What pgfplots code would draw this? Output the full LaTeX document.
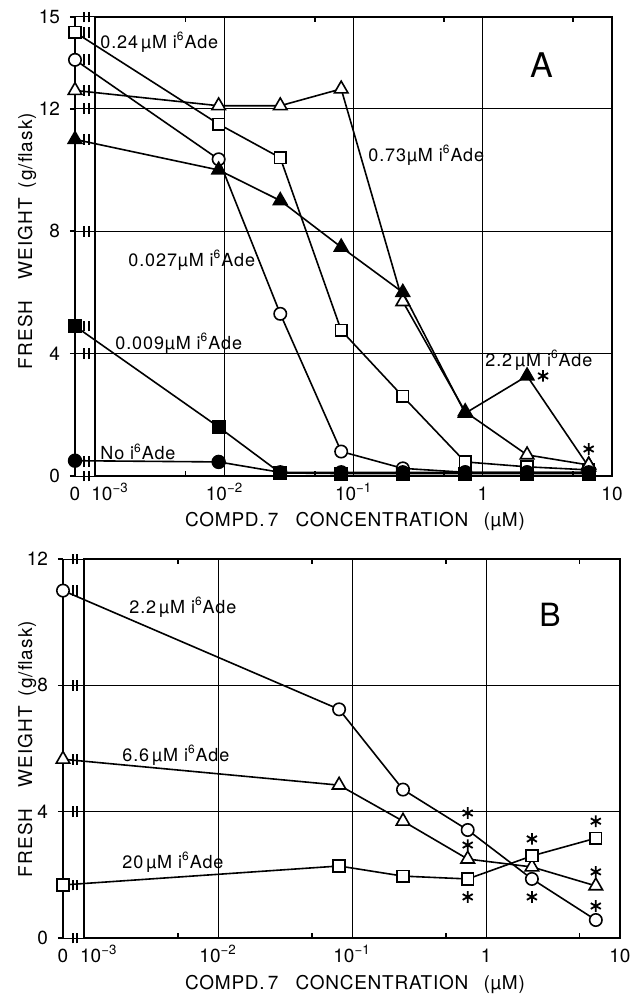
\documentclass[border=0pt]{standalone}
\usepackage{fontspec}
\setmainfont{TeX Gyre Heros}
\usepackage{pgfplots}
\pgfplotsset{compat=1.18}
\pgfplotsset{
  mydl/.style={black, line width=0.8pt},
  myoS/.style={mydl, mark=square*, mark size=2.9pt, mark options={fill=white, solid, line width=0.8pt}},
  myfS/.style={mydl, mark=square*, mark size=3.1pt, mark options={fill=black, solid}},
  myoC/.style={mydl, mark=*, mark size=3.1pt, mark options={fill=white, solid, line width=0.8pt}},
  myfC/.style={mydl, mark=*, mark size=3.2pt, mark options={fill=black, solid}},
  myoT/.style={mydl, mark=triangle*, mark size=3.9pt, mark options={fill=white, solid, line width=0.8pt}},
  myfT/.style={mydl, mark=triangle*, mark size=3.9pt, mark options={fill=black, solid}},
}
\newcommand{\iAde}{i\textsuperscript{6}Ade}
\newcommand{\xlab}{COMPD.\,7\hspace{0.9em}CONCENTRATION\hspace{0.8em}(µM)}
\newcommand{\ylab}{FRESH\hspace{1.1em}WEIGHT\hspace{0.5em}(g/flask)}
\begin{document}
\begin{tikzpicture}
\begin{scope}[x=0.5pt,y=-0.5pt]
\path[use as bounding box] (0,0) rectangle (628,995);
\end{scope}

% ---------------- Panel A ----------------
\begin{axis}[at={(37.5pt,-238pt)}, anchor=south west,
  scale only axis, width=268.5pt, height=229.5pt,
  xmode=log, xmin=6.95e-4, xmax=10, ymin=0, ymax=15, clip=false,
  axis line style={draw=none},
  xtick={6.95e-4,1e-3,1e-2,1e-1,1,10},
  xticklabels={0,{\makebox[0pt][l]{\hspace{-2pt}10\textsuperscript{−3}}},10\textsuperscript{−2},10\textsuperscript{−1},1,10},
  minor xtick={5e-3,5e-2,5e-1,5},
  ytick={0,4,8,12,15}, yticklabels={0,4,8,12,15},
  xmajorgrids, ymajorgrids,
  grid style={black, line width=0.5pt},
  major tick length=0pt, minor tick length=2.6pt, tick align=inside,
  tick style={black, line width=0.8pt},
  tick label style={font=\fontsize{9.5}{10}\selectfont},
  yticklabel style={xshift=-4pt},
  xticklabel style={anchor=base, yshift=-12pt}]
\draw[line width=1pt] (axis cs:1e-3,0) rectangle (axis cs:10,15);
\draw[line width=1.3pt] (axis cs:6.95e-4,0) -- (axis cs:6.95e-4,15);
\pgfplotsinvokeforeach{0,4,8,12,15}{
  \draw[line width=0.8pt] (axis cs:6.95e-4,#1) ++(-2.5pt,0pt) -- ++(2.5pt,0pt);
}
\pgfplotsinvokeforeach{0,4,8,12,15,14.5,13.6,12.6,11.0,4.9,0.47}{
  \draw[line width=0.9pt] (axis cs:8.2e-4,#1) ++(0pt,-2.7pt) -- ++(0pt,5.4pt);
  \draw[line width=0.9pt] (axis cs:8.9e-4,#1) ++(0pt,-2.7pt) -- ++(0pt,5.4pt);
}
% 0.24 uM (open squares)
\addplot[myoS] coordinates {(6.95e-4,14.5)(0.009,11.5)(0.027,10.4)(0.08,4.76)(0.24,2.6)(0.73,0.46)(2.2,0.3)(6.6,0.2)};
% 0.027 uM (open circles)
\addplot[myoC] coordinates {(6.95e-4,13.6)(0.009,10.35)(0.027,5.3)(0.08,0.8)(0.24,0.25)(0.73,0.12)(2.2,0.12)(6.6,0.12)};
% 0.73 uM (open triangles)
\addplot[myoT] coordinates {(6.95e-4,12.6)(0.009,12.1)(0.027,12.1)(0.08,12.65)(0.24,5.7)(0.73,2.1)(2.2,0.69)(6.6,0.36)};
% 2.2 uM (filled triangles)
\addplot[myfT] coordinates {(6.95e-4,11.0)(0.009,10.0)(0.027,9.0)(0.08,7.48)(0.24,6.0)(0.73,2.05)(2.2,3.27)(6.6,0.3)};
\addplot[myoT, only marks] coordinates {(6.6,0.36)};
% 0.009 uM (filled squares)
\addplot[myfS] coordinates {(6.95e-4,4.9)(0.009,1.6)(0.027,0.1)(0.08,0.08)(0.24,0.08)(0.73,0.08)(2.2,0.08)(6.6,0.08)};
% no i6Ade (filled circles)
\addplot[myfC] coordinates {(6.95e-4,0.5)(0.009,0.46)(0.027,0.12)(0.08,0.12)(0.24,0.12)(0.73,0.12)(2.2,0.12)(6.6,0.12)};
% significance stars
\addplot[black, only marks, mark=asterisk, mark size=2.9pt, mark options={line width=0.9pt, xshift=8pt}] coordinates {(2.2,3.27)};
\addplot[black, only marks, mark=asterisk, mark size=2.9pt, mark options={line width=0.9pt, yshift=8pt}] coordinates {(6.6,0.36)};
\end{axis}

% ---------------- Panel B ----------------
\begin{axis}[at={(31.5pt,-469pt)}, anchor=south west,
  scale only axis, width=278.5pt, height=189.5pt,
  xmode=log, xmin=6.95e-4, xmax=10, ymin=0, ymax=12, clip=false,
  axis line style={draw=none},
  xtick={6.95e-4,1e-3,1e-2,1e-1,1,10},
  xticklabels={0,{\makebox[0pt][l]{\hspace{-2pt}10\textsuperscript{−3}}},10\textsuperscript{−2},10\textsuperscript{−1},1,10},
  minor xtick={5e-3,5e-2,5e-1,5},
  ytick={0,4,8,12}, yticklabels={0,4,8,12},
  xmajorgrids, ymajorgrids,
  grid style={black, line width=0.5pt},
  major tick length=0pt, minor tick length=2.6pt, tick align=inside,
  tick style={black, line width=0.8pt},
  tick label style={font=\fontsize{9.5}{10}\selectfont},
  yticklabel style={xshift=-4pt},
  xticklabel style={anchor=base, yshift=-12pt}]
\draw[line width=1pt] (axis cs:1e-3,0) rectangle (axis cs:10,12);
\draw[line width=1.3pt] (axis cs:6.95e-4,0) -- (axis cs:6.95e-4,12);
\pgfplotsinvokeforeach{0,4,8,12}{
  \draw[line width=0.8pt] (axis cs:6.95e-4,#1) ++(-2.5pt,0pt) -- ++(2.5pt,0pt);
}
\pgfplotsinvokeforeach{0,4,8,12,11.0,5.66,1.68}{
  \draw[line width=0.9pt] (axis cs:8.2e-4,#1) ++(0pt,-2.7pt) -- ++(0pt,5.4pt);
  \draw[line width=0.9pt] (axis cs:8.9e-4,#1) ++(0pt,-2.7pt) -- ++(0pt,5.4pt);
}
% 2.2 uM (open circles)
\addplot[myoC] coordinates {(6.95e-4,11.0)(0.08,7.24)(0.24,4.7)(0.73,3.42)(2.2,1.87)(6.6,0.57)};
% 6.6 uM (open triangles)
\addplot[myoT] coordinates {(6.95e-4,5.66)(0.08,4.84)(0.24,3.7)(0.73,2.5)(2.2,2.25)(6.6,1.65)};
% 20 uM (open squares)
\addplot[myoS] coordinates {(6.95e-4,1.68)(0.08,2.28)(0.24,1.96)(0.73,1.87)(2.2,2.6)(6.6,3.16)};
% significance stars
\addplot[black, only marks, mark=asterisk, mark size=2.9pt, mark options={line width=0.9pt, yshift=8.5pt}] coordinates {(0.73,3.42)(2.2,2.6)(6.6,3.16)};
\addplot[black, only marks, mark=asterisk, mark size=2.9pt, mark options={line width=0.9pt, yshift=7pt}] coordinates {(0.73,2.5)(6.6,1.65)(6.6,0.57)};
\addplot[black, only marks, mark=asterisk, mark size=2.9pt, mark options={line width=0.9pt, yshift=-9pt}] coordinates {(0.73,1.87)(2.2,1.87)};
\end{axis}

% ---------------- Text ----------------
\begin{scope}[x=0.5pt,y=-0.5pt, every node/.style={font=\fontsize{9}{10}\selectfont\addfontfeature{LetterSpace=5}, inner sep=0pt}]
\node[anchor=west] at (100,42) {0.24\,µM \iAde};
\node[anchor=west] at (368,155) {0.73µM \iAde};
\node[anchor=west] at (128,260) {0.027µM \iAde};
\node[anchor=west] at (115,343) {0.009µM \iAde};
\node[anchor=west] at (100,452) {No \iAde};
\node[anchor=west] at (485,360) {2.2\,µM \iAde};
\node[font=\fontsize{17}{18}\selectfont] at (542,65) {A};
\node[font=\fontsize{9.5}{10}\selectfont\addfontfeature{LetterSpace=4}] at (355,521) {\xlab};
\node[font=\fontsize{9.5}{10}\selectfont\addfontfeature{LetterSpace=6}, rotate=90] at (27,241) {\ylab};

\node[anchor=west] at (129,607) {2.2\,µM \iAde};
\node[anchor=west] at (122,755) {6.6\,µM \iAde};
\node[anchor=west] at (122,862) {20\,µM \iAde};
\node[font=\fontsize{16}{18}\selectfont] at (550,615) {B};
\node[font=\fontsize{9.5}{10}\selectfont\addfontfeature{LetterSpace=4}] at (355,984) {\xlab};
\node[font=\fontsize{9.5}{10}\selectfont\addfontfeature{LetterSpace=6}, rotate=90] at (27,749) {\ylab};
\end{scope}
\end{tikzpicture}
\end{document}
